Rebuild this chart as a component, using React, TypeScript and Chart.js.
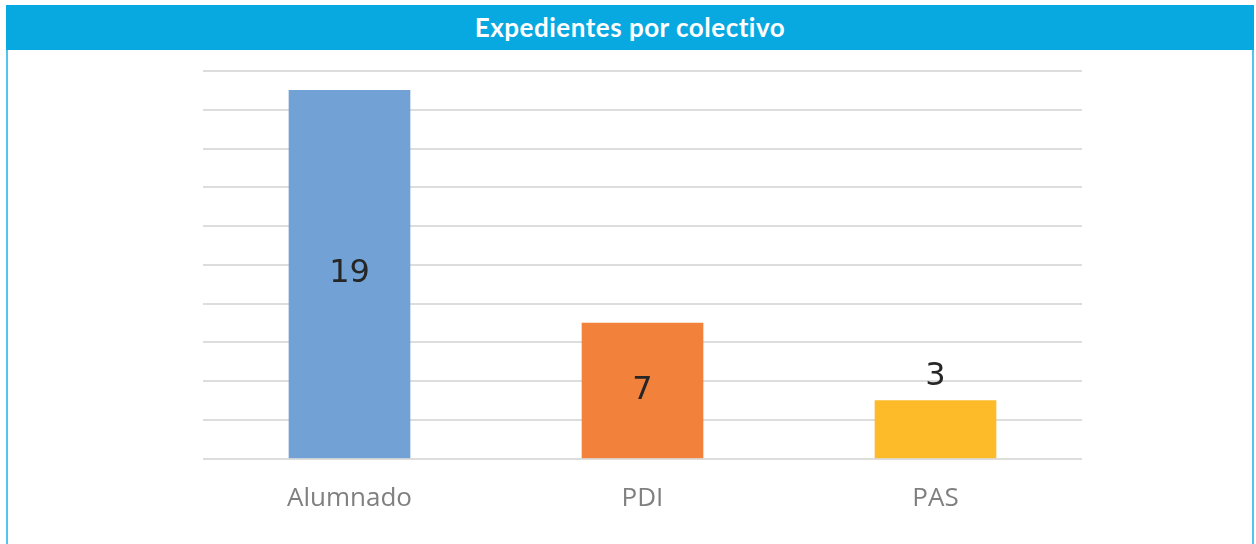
import React, { useEffect, useRef } from "react";
import { Chart, registerables } from "chart.js";

Chart.register(...registerables);

const TITLE = "Expedientes por colectivo";
const categories = ["Alumnado", "PDI", "PAS"];
const values = [19, 7, 3];
const barColors = ["#72A2D5", "#F2813B", "#FDBB2A"];
const yMin = 0;
const yMax = 20;
const yStep = 2;

const valueLabelPlugin = {
  id: "valueLabels",
  afterDatasetsDraw(chart: any) {
    const ctx = chart.ctx;
    const meta = chart.getDatasetMeta(0);
    const ds = chart.data.datasets[0];
    ctx.save();
    ctx.font = "32px 'DejaVu Sans', sans-serif";
    ctx.fillStyle = "#262626";
    ctx.textAlign = "center";
    ctx.textBaseline = "middle";
    meta.data.forEach((el: any, i: number) => {
      const h = el.base - el.y;
      const txt = String(ds.data[i]);
      if (h > 90) {
        ctx.fillText(txt, el.x, (el.y + el.base) / 2);
      } else {
        ctx.fillText(txt, el.x, el.y - 24);
      }
    });
    ctx.restore();
  },
};

export default function App() {
  const ref = useRef<HTMLCanvasElement | null>(null);
  useEffect(() => {
    if (!ref.current) return;
    const chart = new Chart(ref.current, {
      type: "bar",
      data: {
        labels: categories,
        datasets: [
          {
            data: values,
            backgroundColor: barColors,
            barThickness: 121,
          },
        ],
      },
      options: {
        animation: false,
        responsive: false,
        maintainAspectRatio: false,
        layout: { padding: { left: 203, right: 174, top: 71, bottom: 6 } },
        plugins: {
          legend: { display: false },
          tooltip: { enabled: false },
          title: { display: false },
        },
        scales: {
          x: {
            grid: { display: false, drawTicks: false },
            border: { display: false },
            ticks: {
              color: "#808080",
              padding: 24,
              font: { family: "'Open Sans'", size: 26 },
            },
          },
          y: {
            min: yMin,
            max: yMax,
            ticks: { stepSize: yStep, display: false },
            grid: { color: "#DDDDDD", lineWidth: 2, drawTicks: false },
            border: { display: false },
          },
        },
      },
      plugins: [valueLabelPlugin],
    });
    return () => chart.destroy();
  }, []);

  return (
    <div style={{ position: "absolute", left: 0, top: 0, width: 1256, height: 544, overflow: "hidden", background: "#fff" }}>
      <div
        style={{
          position: "absolute",
          left: 6,
          top: 5,
          width: 1248,
          height: 620,
          boxSizing: "border-box",
          border: "2px solid #55C4EC",
          borderTop: "none",
        }}
      />
      <div
        style={{
          position: "absolute",
          left: 6,
          top: 5,
          width: 1248,
          height: 45,
          background: "#08A8E1",
          color: "#fff",
          fontFamily: "Lato, 'Noto Sans', sans-serif",
          fontWeight: 700,
          fontSize: 26,
          letterSpacing: 0.5,
          textAlign: "center",
          lineHeight: "45px",
        }}
      >
        {TITLE}
      </div>
      <canvas ref={ref} width={1256} height={544} style={{ position: "absolute", left: 0, top: 0 }} />
    </div>
  );
}
